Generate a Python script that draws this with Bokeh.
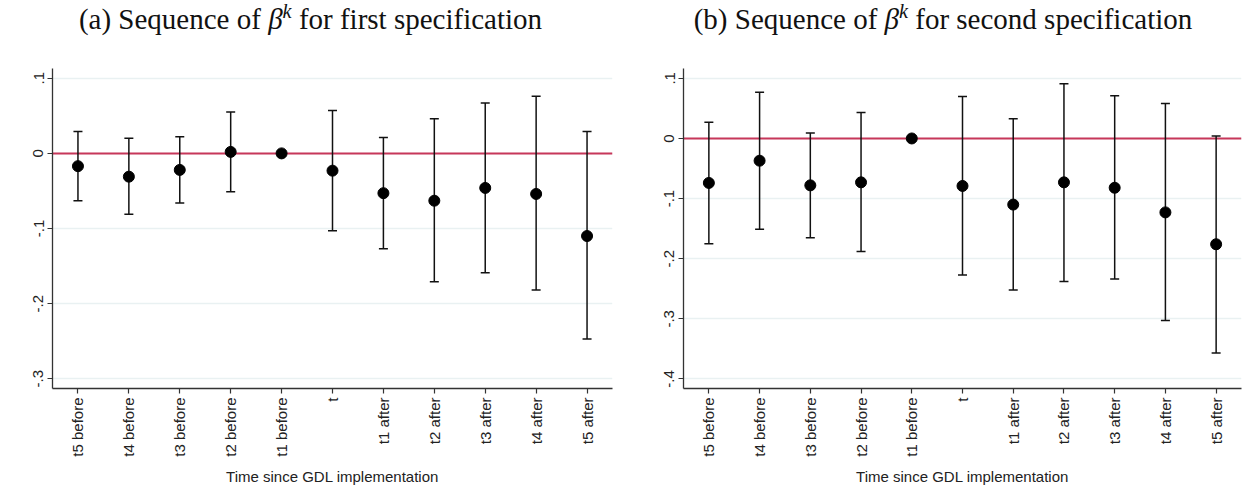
import math
from bokeh.plotting import figure
from bokeh.layouts import row, column
from bokeh.models import Span, FixedTicker, Range1d, ColumnDataSource, Div
from bokeh.embed import file_html
from bokeh.resources import INLINE

nan = float("nan")

labels = ["t5 before", "t4 before", "t3 before", "t2 before", "t1 before", "t",
          "t1 after", "t2 after", "t3 after", "t4 after", "t5 after"]

coef_a = [-0.017, -0.031, -0.022, 0.002, 0.0, -0.023, -0.053, -0.063, -0.046, -0.054, -0.110]
lo_a = [-0.063, -0.081, -0.066, -0.051, nan, -0.103, -0.127, -0.171, -0.159, -0.182, -0.247]
hi_a = [0.029, 0.020, 0.022, 0.055, nan, 0.057, 0.021, 0.046, 0.067, 0.076, 0.029]

coef_b = [-0.074, -0.037, -0.078, -0.073, 0.0, -0.079, -0.110, -0.073, -0.082, -0.123, -0.176]
lo_b = [-0.175, -0.151, -0.165, -0.188, nan, -0.227, -0.252, -0.238, -0.234, -0.303, -0.357]
hi_b = [0.027, 0.077, 0.009, 0.043, nan, 0.070, 0.033, 0.091, 0.071, 0.058, 0.004]

yticks_a = [0.1, 0.0, -0.1, -0.2, -0.3]
yticks_b = [0.1, 0.0, -0.1, -0.2, -0.3, -0.4]

title_a = "(a) Sequence of <i>&beta;</i><sup style='font-size:70%'><i>k</i></sup> for first specification"
title_b = "(b) Sequence of <i>&beta;</i><sup style='font-size:70%'><i>k</i></sup> for second specification"
xlabel = "Time since GDL implementation"


def fmt(v):
    if abs(v) < 1e-9:
        return "0"
    s = ("%.1f" % v).replace("0.", ".")
    return s


def make(title, coef, lo, hi, yticks, yr, bl, br, pad):
    x = list(range(1, len(labels) + 1))
    p = figure(width=621, height=426, output_backend="svg", toolbar_location=None,
               x_range=Range1d(0.5, 11.5), y_range=Range1d(*yr),
               min_border_left=bl, min_border_right=br, min_border_top=0,
               min_border_bottom=106)
    p.outline_line_color = None
    p.background_fill_color = "white"
    p.border_fill_color = "white"

    p.xgrid.visible = False
    p.ygrid.ticker = FixedTicker(ticks=yticks)
    p.ygrid.grid_line_color = "#e9f1f2"
    p.ygrid.grid_line_width = 1.5

    for ax in (p.xaxis[0], p.yaxis[0]):
        ax.axis_line_color = "#333333"
        ax.axis_line_width = 1.3
        ax.major_tick_line_color = "#333333"
        ax.major_tick_line_width = 1.2
        ax.major_tick_out = 5
        ax.major_tick_in = 0
        ax.minor_tick_line_color = None
        ax.major_label_text_font = "Liberation Sans"
        ax.major_label_text_font_size = "15px"
        ax.major_label_text_color = "#222222"
        ax.major_label_standoff = 4

    p.xaxis.major_label_orientation = math.pi / 2
    p.yaxis.major_label_orientation = "vertical"

    p.yaxis.ticker = FixedTicker(ticks=yticks)
    p.yaxis.major_label_overrides = {v: fmt(v) for v in yticks}
    p.xaxis.ticker = FixedTicker(ticks=x)
    p.xaxis.major_label_overrides = {i: l for i, l in zip(x, labels)}
    p.xaxis.axis_label = xlabel
    p.xaxis.axis_label_text_font = "Liberation Sans"
    p.xaxis.axis_label_text_font_size = "15px"
    p.xaxis.axis_label_text_font_style = "normal"
    p.xaxis.axis_label_text_color = "#222222"
    p.xaxis.axis_label_standoff = 8

    p.add_layout(Span(location=0, dimension="width", line_color="#c7375a", line_width=2, level="underlay"))

    src = ColumnDataSource(dict(x=x, coef=coef, lo=lo, hi=hi))
    p.segment(x0="x", y0="lo", x1="x", y1="hi", source=src, line_color="#111111", line_width=1.5)
    p.scatter(x="x", y="lo", source=src, marker="dash", size=9, line_color="#111111", line_width=1.5)
    p.scatter(x="x", y="hi", source=src, marker="dash", size=9, line_color="#111111", line_width=1.5)
    p.scatter(x="x", y="coef", source=src, marker="circle", size=11, fill_color="black", line_color="black")

    d = Div(text=title, width=621, height=68, margin=0,
            styles={"font-family": "'Liberation Serif', serif", "font-size": "29px",
                    "color": "#111111", "text-align": "center", "line-height": "22px",
                    "padding-top": "0px", "padding-left": "%dpx" % pad,
                    "box-sizing": "border-box", "width": "621px", "white-space": "nowrap"})
    return column(d, p, spacing=0)


c1 = make(title_a, coef_a, lo_a, hi_a, yticks_a, (-0.313, 0.113), 52, 9, 0)
c2 = make(title_b, coef_b, lo_b, hi_b, yticks_b, (-0.416, 0.1164), 62, 1, 23)

layout = row(c1, c2, spacing=0)
open("out.html", "w").write(file_html(layout, INLINE))
